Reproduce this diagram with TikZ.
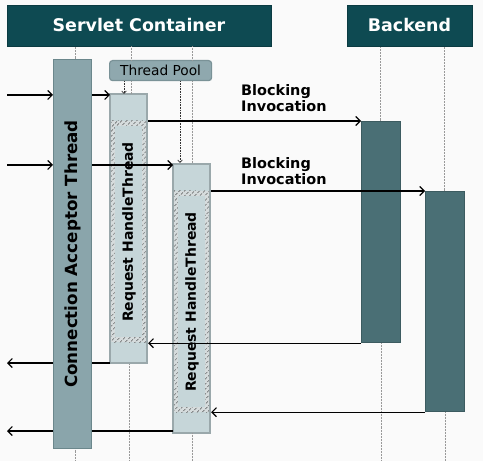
\documentclass[tikz,border=0pt]{standalone}
\usepackage{fontspec}
\setmainfont{DejaVu Sans}
\usetikzlibrary{arrows.meta,patterns.meta}

\definecolor{hdr}{HTML}{0E4A52}
\definecolor{accfill}{HTML}{8AA5AB}
\definecolor{accdraw}{HTML}{6B878C}
\definecolor{poolfill}{HTML}{8FA8AE}
\definecolor{pooldraw}{HTML}{7A9297}
\definecolor{reqfill}{HTML}{C6D6D9}
\definecolor{reqdraw}{HTML}{9AA8AB}
\definecolor{hatchbg}{HTML}{D6DCDD}
\definecolor{hatchline}{HTML}{85898A}
\definecolor{befill}{HTML}{4A6F75}
\definecolor{bedraw}{HTML}{3C5B60}
\definecolor{bg}{HTML}{FAFAFA}

\tikzset{
  header/.style={fill=hdr, draw=hdr!80!black, line width=0.6bp, inner sep=0pt,
    text=white, font=\fontsize{17.5}{20}\selectfont\bfseries},
  box/.style={anchor=north west, inner sep=0pt, line width=1.2bp},
  accbox/.style={box, fill=accfill, draw=accdraw},
  reqbox/.style={box, fill=reqfill, draw=reqdraw},
  bebox/.style={box, fill=befill, draw=bedraw},
  poolbox/.style={box, fill=poolfill, draw=pooldraw, rounded corners=3bp},
  life/.style={draw=gray!80, line width=0.5bp, densely dotted},
  msg/.style={draw=black, line width=1.3bp, -{Straight Barb[length=4.5bp,width=9bp,line width=1.1bp]}},
  poolarrow/.style={draw=black!80, line width=0.6bp, densely dotted,
    -{Straight Barb[length=2.5bp,width=4.5bp,line width=0.7bp]}},
  msglabel/.style={font=\fontsize{14.5}{16}\selectfont\bfseries, align=left, anchor=north west, inner sep=0pt},
  vtext/.style={rotate=90, font=\fontsize{14}{16}\selectfont\bfseries, inner sep=0pt},
  hatch/.style={pattern={Lines[angle=45, distance=3.6bp, line width=1.2bp]}, pattern color=hatchline}
}

\begin{document}
\begin{tikzpicture}[x=1bp, y=-1bp]
  \fill[bg] (0,0) rectangle (483,461);
  \useasboundingbox (0,0) rectangle (483,461);

  % headers
  \node[header, minimum width=264bp, minimum height=41bp] (sc) at (139,25.5) {Servlet Container};
  \node[header, minimum width=125bp, minimum height=41bp] (be) at (409.5,25.5) {Backend};

  % free ends of the outer connectors
  \coordinate (in1) at (7,95);
  \coordinate (in2) at (7,165);
  \coordinate (out1) at (7,363);
  \coordinate (out2) at (7,431);
  \coordinate (bot) at (0,461);

  % activation boxes
  \node[poolbox, minimum width=102bp, minimum height=20bp] (pool) at (109,60) {};
  \node at (pool.center) {\fontsize{13.8}{16}\selectfont Thread Pool};
  \node[reqbox, minimum width=37bp, minimum height=269bp] (rq1) at (110,94) {};
  \node[reqbox, minimum width=37bp, minimum height=269bp] (rq2) at (173,163) {};
  \node[bebox, minimum width=39bp, minimum height=221bp] (be1) at (361,121) {};
  \node[bebox, minimum width=39bp, minimum height=220bp] (be2) at (425,191) {};

  % hatched busy sections of the request threads
  \foreach \xa/\xb/\ya/\yb in {110/147/121/342, 173/210/191/412} {
    \fill[hatchbg] (\xa,\ya) rectangle (\xb,\yb);
    \path[hatch] (\xa,\ya) rectangle (\xb,\yb);
    \fill[reqfill] (\xa+5,\ya+5) rectangle (\xb-5,\yb-5);
    \draw[reqdraw, line width=1.2bp] (\xa,\ya-27) rectangle (\xb,\yb+21);
  }

  % lifelines
  \draw[life] (75,59) -- (75,0 |- sc.south);
  \draw[life] (75,448) -- (75,0 |- bot);
  \draw[life] (131,0 |- sc.south) -- (131,0 |- pool.north);
  \draw[life] (131,0 |- pool.south) -- (131,0 |- rq1.north);
  \draw[life] (rq1.south) -- (rq1.south |- bot);
  \draw[life] (192,0 |- sc.south) -- (192,0 |- pool.north);
  \draw[life] (192,0 |- pool.south) -- (192,0 |- rq2.north);
  \draw[life] (rq2.south) -- (rq2.south |- bot);
  \draw[life] (be1.north -| 380.5,0) -- (be.south -| 380.5,0);
  \draw[life] (be1.south) -- (be1.south |- bot);
  \draw[life] (be2.north -| 444.5,0) -- (be.south -| 444.5,0);
  \draw[life] (be2.south) -- (be2.south |- bot);

  % thread pool hand-off
  \draw[poolarrow] (124,0 |- pool.south) -- (124,0 |- rq1.north);
  \draw[poolarrow] (180,0 |- pool.south) -- (180,0 |- rq2.north);

  % responses leave through the acceptor, which is drawn over them
  \draw[msg] (rq1.south west |- out1) -- (out1);
  \draw[msg] (rq2.south west |- out2) -- (out2);
  \node[accbox, minimum width=38bp, minimum height=389bp] (acc) at (53,59) {};
  \node[vtext, font=\fontsize{16.8}{19}\selectfont\bfseries] at (acc.center |- 0,254) {Connection Acceptor Thread};

  % incoming requests
  \draw[msg] (in1) -- (in1 -| acc.west);
  \draw[msg] (in1 -| acc.east) -- (in1 -| rq1.west);
  \draw[msg] (in2) -- (in2 -| acc.west);
  \draw[msg] (in2 -| acc.east) -- (in2 -| rq2.west);

  % blocking invocations and their returns
  \draw[msg] (rq1.east |- be1.north) -- (be1.north west);
  \draw[msg] (rq2.east |- be2.north) -- (be2.north west);
  \draw[msg] (be1.south west) -- (rq1.east |- be1.south);
  \draw[msg] (be2.south west) -- (rq2.east |- be2.south);

  \node[msglabel] (bl1) at (241,84) {Blocking\\Invocation};
  \node[msglabel] (bl2) at (241,157) {Blocking\\Invocation};

  % thread names
  \node[vtext] at (rq1.center |- 0,232) {Request HandleThread};
  \node[vtext] at (rq2.center |- 0,302) {Request HandleThread};
\end{tikzpicture}
\end{document}
